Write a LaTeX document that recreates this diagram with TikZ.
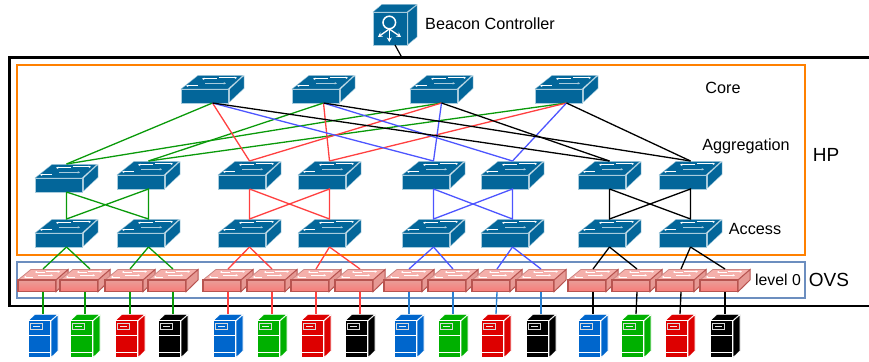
\documentclass[tikz,border=0pt]{standalone}
\usepackage{fontspec}
\setmainfont{Liberation Sans}
\usetikzlibrary{arrows.meta}
\usetikzlibrary{positioning}
\definecolor{swblue}{HTML}{03669A}
\definecolor{swedge}{HTML}{A8CCDD}
\definecolor{ovstop}{HTML}{F5B0AB}
\definecolor{ovsedge}{HTML}{B85450}
\definecolor{lorange}{HTML}{FF8000}
\definecolor{lframe}{HTML}{6C8EBF}
\definecolor{lgreen}{HTML}{0A9A0A}
\definecolor{lred}{HTML}{FF4040}
\definecolor{lblue}{HTML}{4D55FF}
\definecolor{lhost}{HTML}{2A7FD0}
\definecolor{hblue}{HTML}{0066CC}
\definecolor{hgreen}{HTML}{00B000}
\definecolor{hred}{HTML}{DD0000}
\definecolor{hblack}{HTML}{000000}
\tikzstyle{swbox}=[inner sep=0pt,outer sep=0pt,minimum width=63pt,minimum height=28pt,anchor=north west]
\tikzstyle{ovsbox}=[inner sep=0pt,outer sep=0pt,minimum width=50pt,minimum height=23pt,anchor=north west]
\tikzstyle{hostbox}=[inner sep=0pt,outer sep=0pt,minimum width=30pt,minimum height=44pt,anchor=north west]
\tikzstyle{ctrlbox}=[inner sep=0pt,outer sep=0pt,minimum width=44pt,minimum height=41pt,anchor=north west]
\tikzstyle{framebox}=[inner sep=0pt,outer sep=0pt,minimum width=788pt,anchor=north west]
\tikzstyle{link}=[line width=1.3pt]
\tikzstyle{hostlink}=[line width=1.35pt]
\tikzstyle{lbl}=[font=\fontsize{16.2}{18}\selectfont,inner sep=0pt]
\tikzstyle{biglbl}=[font=\fontsize{19}{21}\selectfont,inner sep=0pt]
\tikzstyle{tiparrow}=[-{Stealth[length=2.4pt,width=2.4pt]},line width=.7pt]
\newcommand{\hpswitch}[3]{
\node [swbox] (#1) at (#2,#3) {};
\begin{scope}[shift={(#1.north west)}]
\fill [swblue,draw=swedge,line width=.4pt] (0,14) -- (17,0.4) -- (62,0.4) -- (47,14) -- cycle;
\fill [swblue,draw=swedge,line width=.4pt] (0,14) rectangle (47,28);
\fill [swblue,draw=swedge,line width=.4pt] (48.5,14) -- (63,0.6) -- (63,13.5) -- (48.5,27) -- cycle;
\draw [tiparrow,white] (36,3.8) -- (21,3.8);
\draw [tiparrow,white] (38,2.8) -- (56,2.8);
\draw [tiparrow,white] (17,10.8) -- (5,10.8);
\draw [tiparrow,swedge] (24,8.3) -- (45,8.3);
\end{scope}
}
\newcommand{\ovsswitch}[3]{
\node [ovsbox] (#1) at (#2,#3) {};
\begin{scope}[shift={(#1.north west)}]
\fill [ovstop,draw=ovsedge!70,line width=.8pt] (0,11) -- (13,0.4) -- (50,0.4) -- (38,11) -- cycle;
\shade [top color=ovstop!80!ovsedge,bottom color=ovstop!70!red,draw=ovsedge,line width=1.2pt] (0,11) rectangle (38,22.7);
\fill [ovstop!75!ovsedge,draw=ovsedge,line width=1pt] (38,11) -- (50,0.6) -- (50,11) -- (38,22.7) -- cycle;
\draw [tiparrow,white,line width=.4pt] (27,3) -- (17,3);
\draw [tiparrow,white,line width=.4pt] (28,2.6) -- (42,2.6);
\draw [tiparrow,white,line width=.4pt] (15,8) -- (6,8);
\draw [tiparrow,white,line width=.4pt] (20,6.3) -- (35,6.3);
\end{scope}
}
\newcommand{\hosticon}[3]{
\node [hostbox] (#1) at (#2,314) {};
\begin{scope}[shift={(#1.north west)},draw=white,line width=.7pt]
\fill [#3,draw=white] (0,6.7) -- (7,0.3) -- (30,0.3) -- (22.7,6.7) -- cycle;
\fill [#3,draw=white] (22.9,7) -- (30,0.6) -- (30,37) -- (22.9,43.7) -- cycle;
\fill [#3,draw=white] (0,6.7) rectangle (22.7,43.7);
\draw [white] (0,21.4) -- (22.7,21.4);
\draw [white] (0,38.7) -- (22.7,38.7);
\fill [#3,draw=white!85!black,line width=.8pt] (2.3,9.3) rectangle (14.7,15.2);
\fill [white!90!#3] (5,11.5) rectangle (12,13);
\end{scope}
}
\begin{document}
\begin{tikzpicture}[x=1pt,y=-1pt]
\useasboundingbox (0,0) rectangle (869,361);

\draw [line width=2.4pt] (869,57.7) -- (9.5,57.7) -- (9.5,306) -- (869,306);
\coordinate (hptop) at (402,57.7);
\node [framebox,draw=lorange,line width=2.4pt,minimum height=189.7pt] (hpbox) at (17,65) {};
\node [framebox,draw=lframe,line width=2.2pt,minimum height=36pt] (ovsframe) at (17,262) {};

\node [ctrlbox] (ctrl) at (373,4) {};
\begin{scope}[shift={(ctrl.north west)}]
\fill [swblue,draw=swedge,line width=.4pt] (0,8) -- (9,0.3) -- (44,0.3) -- (34,8) -- cycle;
\fill [swblue,draw=swedge,line width=.4pt] (35,8.3) -- (44,1) -- (44,33) -- (35,40.5) -- cycle;
\fill [swblue,draw=swedge,line width=.4pt] (0,8) rectangle (34,41);
\draw [white,line width=1.5pt] (16.3,18.5) circle (6.3);
\foreach \tx/\ty in {5/33,16.3/38,28/33}
  \draw [-{Stealth[length=4.5pt,width=5pt]},white,line width=1.3pt] (16.3,25) -- (\tx,\ty);
\end{scope}
\node [lbl,anchor=west] (ctrllbl) at (425,23.5) {Beacon Controller};
\draw [line width=1.2pt] (ctrl.south) -- (hptop);

\foreach \n/\x in {core1/181,core2/292,core3/410,core4/535}{
  \hpswitch{\n}{\x}{75}
}
\foreach \n/\x/\y in {agg1/35/164,agg2/117/161,agg3/218/161,agg4/298/161,agg5/402/161,agg6/481/161,agg7/578/161,agg8/659/161}{
  \hpswitch{\n}{\x}{\y}
}
\foreach \n/\x in {acc1/35,acc2/117,acc3/218,acc4/298,acc5/402,acc6/481,acc7/578,acc8/659}{
  \hpswitch{\n}{\x}{219}
}
\foreach \i/\x in {1/18,2/60,3/105,4/148,5/203,6/247,7/291,8/335,9/384,10/428,11/472,12/516,13/568,14/612,15/656,16/700}{
  \ovsswitch{ovs\i}{\x}{269}
}
\foreach \i/\x/\col in {1/28/hblue,2/70/hgreen,3/115/hred,4/158/hblack,5/213/hblue,6/257/hgreen,7/301/hred,8/345/hblack,9/394/hblue,10/438/hgreen,11/481/hred,12/526/hblack,13/578/hblue,14/621/hgreen,15/665/hred,16/710/hblack}{
  \hosticon{host\i}{\x}{\col}
}

\foreach \c/\a/\col in {1/1/lgreen,3/1/lgreen,2/2/lgreen,4/2/lgreen,1/3/lred,3/3/lred,2/4/lred,4/4/lred,1/5/lblue,3/5/lblue,2/6/lblue,4/6/lblue,1/7/black,3/7/black,2/8/black,4/8/black}
  \draw [link,\col] (core\c.south) -- (agg\a.north);

\foreach \a/\b/\col in {1/2/lgreen,3/4/lred,5/6/lblue,7/8/black}{
  \draw [link,\col] (agg\a.south) -- (acc\a.north) -- (agg\b.south) -- (acc\b.north) -- (agg\a.south);
}

\foreach \a/\p/\q/\dq/\col in {1/1/2/5/lgreen,2/3/4/0/lgreen,3/5/6/0/lred,4/7/8/0/lred,5/9/10/0/lblue,6/11/12/0/lblue,7/13/14/0/black,8/15/16/0/black}{
  \draw [link,\col] (acc\a.south) -- (ovs\p.north);
  \draw [link,\col] (acc\a.south) -- ([xshift=\dq pt]ovs\q.north);
}

\foreach \i/\col in {1/lgreen,2/lgreen,3/lgreen,4/lgreen,5/lred,6/lred,7/lred,8/lred,9/lhost,10/lhost,11/lhost,12/lhost,13/black,14/black,15/black,16/black}
  \draw [hostlink,\col] (ovs\i.south) -- (host\i.north);

\node [lbl] (corelbl) at (723,87.5) {Core};
\node [lbl] (agglbl) at (746,146.5) {Aggregation};
\node [lbl] (acclbl) at (755,229.5) {Access};
\node [lbl,font=\fontsize{15.8}{18}\selectfont] (levellbl) at (778,279.5) {level 0};
\node [biglbl] (hplbl) at (826,155) {HP};
\node [biglbl] (ovslbl) at (829,280) {OVS};
\end{tikzpicture}
\end{document}
